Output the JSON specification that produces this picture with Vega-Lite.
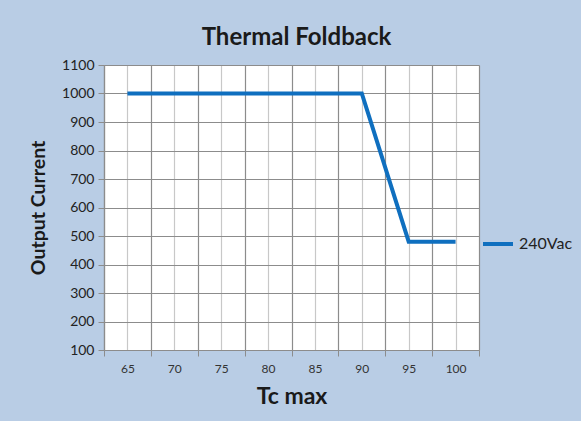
{
  "$schema": "https://vega.github.io/schema/vega-lite/v6.json",
  "width": 375,
  "height": 285,
  "autosize": "none",
  "padding": {"left": 104, "top": 65, "right": 102, "bottom": 71},
  "background": "#b9cde5",
  "title": {"text": "Thermal Foldback", "font": "Lato", "fontSize": 24, "fontWeight": "bold", "color": "#1a1a1a", "offset": 8, "dx": 5},
  "config": {
    "view": {"fill": "white", "stroke": "#c8c8c8"},
    "axis": {"labelFont": "Lato", "titleFont": "Lato", "labelColor": "#222", "titleColor": "#1a1a1a"},
    "axisY": {"values": [100, 200, 300, 400, 500, 600, 700, 800, 900, 1000, 1100],
      "format": "d", "labelOverlap": false,
      "grid": true, "gridColor": "#8c8c8c", "gridWidth": 1.2, "tickSize": 6, "tickColor": "#8c8c8c",
      "domainColor": "#8c8c8c", "domainWidth": 1.2, "labelFontSize": 14, "labelPadding": 4,
      "titleFontSize": 19.5, "titleFontWeight": "bold", "titlePadding": 13}
  },
  "data": {
    "values": [
      {"tc": 65, "current": 1000, "series": "240Vac"},
      {"tc": 70, "current": 1000, "series": "240Vac"},
      {"tc": 75, "current": 1000, "series": "240Vac"},
      {"tc": 80, "current": 1000, "series": "240Vac"},
      {"tc": 85, "current": 1000, "series": "240Vac"},
      {"tc": 90, "current": 1000, "series": "240Vac"},
      {"tc": 95, "current": 480, "series": "240Vac"},
      {"tc": 100, "current": 480, "series": "240Vac"}
    ]
  },
  "resolve": {"axis": {"x": "independent"}},
  "layer": [
    {
      "mark": {"type": "point", "opacity": 0},
      "encoding": {
        "x": {"field": "tc", "type": "quantitative",
          "scale": {"domain": [62.5, 102.5], "nice": false, "zero": false},
          "axis": {"orient": "bottom", "values": [62.5, 67.5, 72.5, 77.5, 82.5, 87.5, 92.5, 97.5, 102.5],
            "labels": false, "title": null, "grid": true, "gridColor": "#8c8c8c", "gridWidth": 1.2,
            "ticks": true, "tickSize": 6, "tickColor": "#8c8c8c", "domainColor": "#8c8c8c", "domainWidth": 1.2}},
        "y": {"field": "current", "type": "quantitative",
          "scale": {"domain": [100, 1100], "nice": false, "zero": false},
          "axis": {"title": "Output Current", "tickCount": 10}}
      }
    },
    {
      "mark": {"type": "line", "strokeWidth": 4},
      "encoding": {
        "x": {"field": "tc", "type": "quantitative",
          "axis": {"orient": "bottom", "values": [65, 70, 75, 80, 85, 90, 95, 100],
            "format": "d", "labelOverlap": false,
            "grid": true, "gridColor": "#c8c8c8", "gridWidth": 1.2, "ticks": false, "domain": false,
            "labelFontSize": 12, "labelPadding": 13, "labelColor": "#333",
            "title": "Tc max", "titleFontSize": 23, "titleFontWeight": "bold", "titlePadding": 11}},
        "y": {"field": "current", "type": "quantitative",
          "axis": {"title": "Output Current", "tickCount": 10}},
        "color": {"field": "series", "type": "nominal",
          "scale": {"range": ["#0f6fbf"]},
          "legend": {"orient": "none", "legendX": 377, "legendY": 162, "title": null,
            "symbolType": "stroke", "symbolStrokeWidth": 4, "symbolSize": 900,
            "labelFont": "Lato", "labelFontSize": 16, "labelColor": "#222"}}
      }
    }
  ]
}
